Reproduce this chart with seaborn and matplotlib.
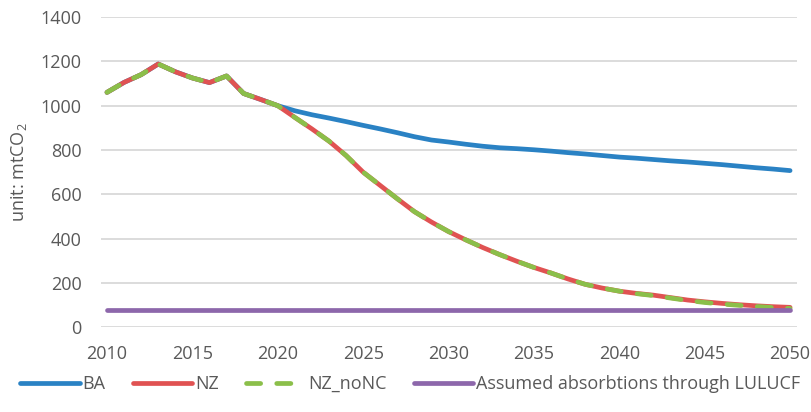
import matplotlib as mpl
mpl.use('Agg')
import matplotlib.pyplot as plt
import pandas as pd
import seaborn as sns

sns.set_style('white')
plt.rcParams['font.family'] = ['Open Sans', 'DejaVu Sans']
plt.rcParams['mathtext.fontset'] = 'custom'
plt.rcParams['mathtext.rm'] = 'Open Sans'

years = list(range(2010, 2051))
ba = [1060, 1105, 1140, 1188, 1153, 1125, 1104, 1134, 1055, 1028, 1000,
      977, 959, 944, 928, 911, 895, 878, 860, 845, 836,
      826, 817, 810, 806, 801, 795, 788, 782, 775, 768,
      763, 757, 751, 746, 740, 734, 727, 720, 714, 707]
nz = [1060, 1105, 1140, 1188, 1153, 1125, 1104, 1134, 1055, 1028, 1000,
      947, 895, 840, 775, 700, 640, 580, 522, 475, 432,
      395, 360, 328, 298, 270, 245, 218, 194, 177, 163,
      153, 145, 134, 123, 115, 108, 102, 97, 93, 90]
nz_nonc = [1060, 1105, 1140, 1188, 1153, 1125, 1104, 1134, 1055, 1028, 1000,
           947, 895, 840, 775, 700, 640, 580, 522, 475, 432,
           395, 360, 328, 298, 270, 245, 218, 194, 177, 163,
           152, 143, 132, 121, 112, 105, 99, 94, 89, 85]
lulucf = [80] * len(years)

df = pd.DataFrame({'year': years, 'BA': ba, 'NZ': nz,
                   'NZ_noNC': nz_nonc, 'LULUCF': lulucf})

fig = plt.figure(figsize=(8.12, 4.12), dpi=100)
ax = fig.add_axes([0.1244, 0.2056, 0.857, 0.7531])

lw = 3.4
sns.lineplot(data=df, x='year', y='BA', ax=ax, color='#2A82C4', lw=lw,
             solid_capstyle='round', label='BA')
sns.lineplot(data=df, x='year', y='NZ', ax=ax, color='#E05252', lw=lw,
             solid_capstyle='round', label='NZ')
sns.lineplot(data=df, x='year', y='NZ_noNC', ax=ax, color='#8BBF4A', lw=lw,
             dashes=False, label='NZ_noNC')
ax.lines[-1].set_dashes([3.0, 3.4])
ax.lines[-1].set_dash_capstyle('round')
sns.lineplot(data=df, x='year', y='LULUCF', ax=ax, color='#8D67AB', lw=lw,
             solid_capstyle='round', label='Assumed absorbtions through LULUCF')

ax.set_xlim(2009.65, 2050.4)
ax.set_ylim(0, 1400)
ax.set_xticks(range(2010, 2051, 5))
ax.set_yticks(range(0, 1401, 200))
ax.grid(axis='y', color='#D9D9D9', lw=1.3)
ax.set_axisbelow(True)
for s in ax.spines.values():
    s.set_visible(False)
ax.tick_params(axis='both', length=0, labelsize=13, colors='#595959')
ax.tick_params(axis='x', pad=13)
ax.tick_params(axis='y', pad=14)
ax.set_xlabel('')
ax.set_ylabel('unit: mtCO$_2$', fontsize=13, color='#595959', labelpad=8)

ax.legend(loc='center', bbox_to_anchor=(0.505, 0.068), bbox_transform=fig.transFigure,
          ncol=4, frameon=False, fontsize=13, handlelength=3.3,
          handletextpad=0.15, columnspacing=1.5, labelcolor='#595959')

fig.savefig('out.png', dpi=100)
